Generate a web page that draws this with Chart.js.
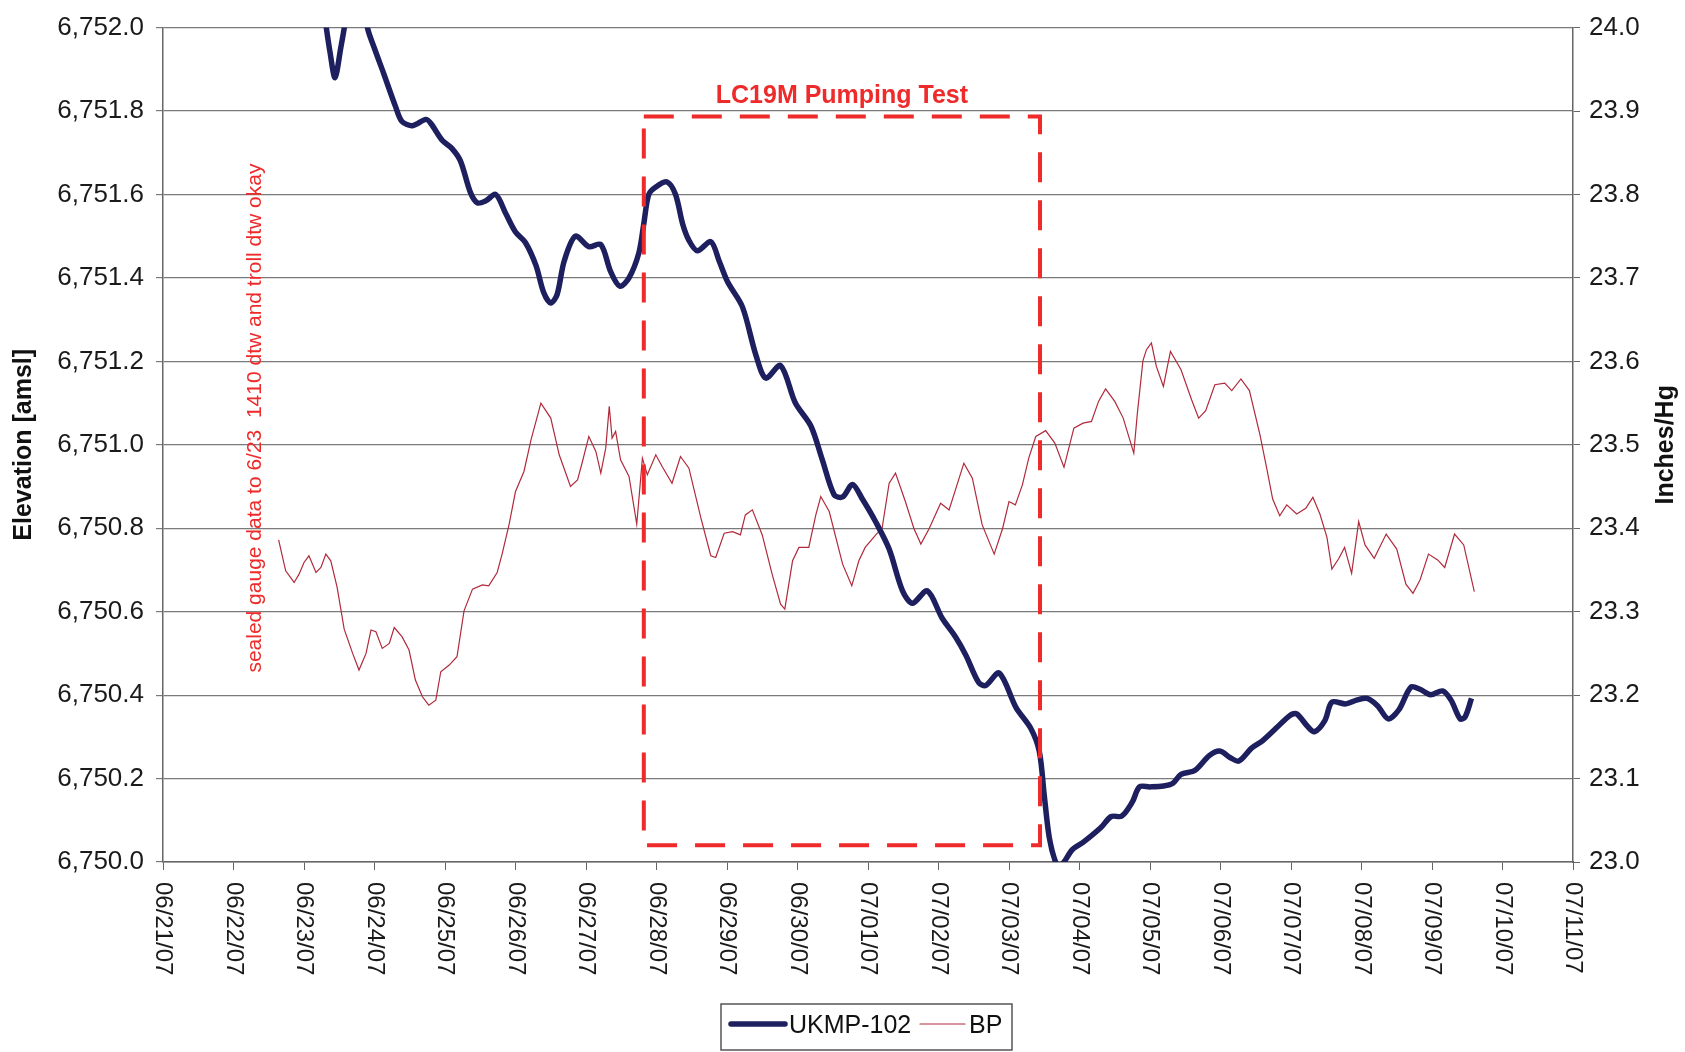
<!DOCTYPE html>
<html>
<head>
<meta charset="utf-8">
<title>UKMP-102 vs BP</title>
<script src="https://cdn.jsdelivr.net/npm/chart.js@4.4.1/dist/chart.umd.min.js"></script>
<style>
  body { margin: 0; background: #fff; }
</style>
</head>
<body>
<canvas id="chart" width="1685" height="1052"></canvas>
<script>
// days counted from 06/21/07 (0) to 07/11/07 (20)
const dateLabels = ['06/21/07', '06/22/07', '06/23/07', '06/24/07', '06/25/07', '06/26/07', '06/27/07',
  '06/28/07', '06/29/07', '06/30/07', '07/01/07', '07/02/07', '07/03/07', '07/04/07', '07/05/07',
  '07/06/07', '07/07/07', '07/08/07', '07/09/07', '07/10/07', '07/11/07'];

// UKMP-102 water level, ft amsl (left axis)
const ukmpDays = [2.20, 2.30, 2.37, 2.44, 2.52, 2.59, 2.68, 2.80, 2.90, 3.00, 3.13, 3.30, 3.39, 3.54, 3.73, 3.80,
  3.96, 4.10, 4.22, 4.36, 4.46, 4.58, 4.72, 4.86, 5.00, 5.14, 5.29, 5.40, 5.50, 5.59, 5.69, 5.85, 6.04, 6.21,
  6.35, 6.48, 6.61, 6.75, 6.82, 6.89, 6.99, 7.15, 7.27, 7.37, 7.46, 7.58, 7.77, 7.89, 8.01, 8.22, 8.41, 8.55,
  8.76, 8.97, 9.19, 9.35, 9.52, 9.64, 9.78, 9.92, 10.11, 10.30, 10.49, 10.63, 10.84, 11.05, 11.24, 11.39,
  11.57, 11.67, 11.86, 12.10, 12.31, 12.43, 12.50, 12.57, 12.66, 12.72, 12.78, 12.90, 13.05, 13.30, 13.45,
  13.60, 13.75, 13.85, 14.00, 14.19, 14.32, 14.44, 14.64, 14.84, 14.99, 15.14, 15.26, 15.44, 15.59, 15.79,
  15.99, 16.08, 16.23, 16.33, 16.48, 16.58, 16.78, 16.93, 17.08, 17.23, 17.38, 17.53, 17.70, 17.83, 17.98,
  18.15, 18.27, 18.40, 18.47, 18.56];
const ukmpElev = [6752.15, 6752.02, 6751.94, 6751.88, 6751.95, 6752.02, 6752.15, 6752.12, 6752.00, 6751.95,
  6751.89, 6751.81, 6751.775, 6751.765, 6751.78, 6751.77, 6751.73, 6751.71, 6751.68, 6751.605, 6751.58,
  6751.585, 6751.60, 6751.555, 6751.51, 6751.485, 6751.43, 6751.365, 6751.34, 6751.36, 6751.44, 6751.50,
  6751.475, 6751.48, 6751.415, 6751.38, 6751.40, 6751.46, 6751.53, 6751.60, 6751.618, 6751.63, 6751.60,
  6751.53, 6751.49, 6751.465, 6751.487, 6751.44, 6751.39, 6751.33, 6751.215, 6751.16, 6751.19, 6751.10,
  6751.045, 6750.965, 6750.88, 6750.875, 6750.905, 6750.87, 6750.815, 6750.75, 6750.65, 6750.62, 6750.65,
  6750.585, 6750.54, 6750.495, 6750.43, 6750.423, 6750.453, 6750.37, 6750.32, 6750.265, 6750.16, 6750.06,
  6750.00, 6749.99, 6750.00, 6750.03, 6750.047, 6750.082, 6750.109, 6750.11, 6750.144, 6750.18, 6750.18,
  6750.182, 6750.188, 6750.21, 6750.22, 6750.255, 6750.266, 6750.25, 6750.242, 6750.273, 6750.29, 6750.321,
  6750.352, 6750.355, 6750.326, 6750.312, 6750.339, 6750.383, 6750.379, 6750.388, 6750.392, 6750.374,
  6750.343, 6750.365, 6750.419, 6750.414, 6750.401, 6750.41, 6750.388, 6750.343, 6750.348, 6750.392];

// barometric pressure, inches Hg (right axis)
const bpDays = [1.64, 1.74, 1.86, 1.93, 2.00, 2.07, 2.17, 2.24, 2.31, 2.38, 2.47, 2.57, 2.69, 2.78, 2.88, 2.95,
  3.02, 3.11, 3.21, 3.28, 3.39, 3.49, 3.58, 3.68, 3.77, 3.87, 3.94, 4.06, 4.17, 4.27, 4.39, 4.53, 4.62, 4.74,
  4.81, 4.91, 5.00, 5.12, 5.22, 5.36, 5.50, 5.62, 5.78, 5.88, 5.95, 6.04, 6.14, 6.21, 6.28, 6.33, 6.37, 6.42,
  6.49, 6.61, 6.72, 6.80, 6.87, 6.99, 7.08, 7.22, 7.34, 7.46, 7.63, 7.77, 7.84, 7.96, 8.08, 8.19, 8.26, 8.36,
  8.50, 8.64, 8.76, 8.82, 8.93, 9.02, 9.16, 9.26, 9.33, 9.45, 9.64, 9.77, 9.87, 9.96, 10.11, 10.20, 10.30,
  10.39, 10.53, 10.65, 10.75, 10.87, 11.03, 11.15, 11.36, 11.48, 11.62, 11.79, 11.91, 12.00, 12.09, 12.19,
  12.28, 12.38, 12.52, 12.65, 12.78, 12.92, 13.05, 13.17, 13.27, 13.37, 13.50, 13.62, 13.77, 13.82, 13.90,
  13.95, 14.02, 14.09, 14.19, 14.29, 14.44, 14.59, 14.69, 14.79, 14.92, 15.06, 15.16, 15.29, 15.41, 15.56,
  15.66, 15.74, 15.84, 15.94, 16.08, 16.21, 16.31, 16.41, 16.51, 16.58, 16.68, 16.76, 16.86, 16.96, 17.05,
  17.18, 17.35, 17.50, 17.63, 17.73, 17.83, 17.95, 18.08, 18.18, 18.32, 18.45, 18.60];
const bpInHg = [23.386, 23.349, 23.335, 23.345, 23.359, 23.367, 23.347, 23.353, 23.369, 23.361, 23.329, 23.279,
  23.25, 23.23, 23.25, 23.278, 23.276, 23.256, 23.262, 23.281, 23.27, 23.254, 23.218, 23.198, 23.188, 23.194,
  23.228, 23.236, 23.246, 23.301, 23.327, 23.332, 23.331, 23.347, 23.369, 23.405, 23.444, 23.468, 23.506,
  23.55, 23.532, 23.488, 23.45, 23.458, 23.48, 23.51, 23.492, 23.466, 23.496, 23.546, 23.508, 23.516, 23.482,
  23.462, 23.405, 23.484, 23.464, 23.488, 23.474, 23.454, 23.486, 23.472, 23.412, 23.367, 23.365, 23.394,
  23.396, 23.392, 23.416, 23.422, 23.392, 23.345, 23.309, 23.303, 23.361, 23.377, 23.377, 23.416, 23.438,
  23.42, 23.357, 23.331, 23.361, 23.377, 23.392, 23.4, 23.454, 23.466, 23.432, 23.4, 23.381, 23.4, 23.43,
  23.422, 23.478, 23.46, 23.404, 23.369, 23.4, 23.432, 23.428, 23.452, 23.484, 23.51, 23.517, 23.502, 23.473,
  23.52, 23.526, 23.528, 23.552, 23.567, 23.552, 23.532, 23.49, 23.537, 23.601, 23.614, 23.622, 23.594, 23.57,
  23.612, 23.59, 23.554, 23.532, 23.541, 23.572, 23.574, 23.565, 23.579, 23.565, 23.512, 23.47, 23.435,
  23.415, 23.428, 23.417, 23.424, 23.437, 23.417, 23.389, 23.351, 23.364, 23.377, 23.346, 23.408, 23.38,
  23.364, 23.393, 23.375, 23.333, 23.322, 23.338, 23.369, 23.362, 23.353, 23.393, 23.38, 23.324];

// pumping test window (days) and its box limits on the elevation axis
const pumpStart = 6.82, pumpEnd = 12.44;
const pumpTop = 6751.787, pumpBottom = 6750.04;

const FONT = '"Liberation Sans", Arial, Helvetica, sans-serif';
const NAVY = '#1d1f5f';
const BPRED = '#b02a3c';
const RED = '#ee2a2a';

const decor = {
  id: 'decor',
  afterDraw(chart) {
    const ctx = chart.ctx;
    const xs = chart.scales.x, ys = chart.scales.y;

    // rotated date labels (read top to bottom)
    ctx.save();
    ctx.font = '24px ' + FONT;
    ctx.fillStyle = '#1a1a1a';
    ctx.textAlign = 'left';
    ctx.textBaseline = 'middle';
    dateLabels.forEach((lab, i) => {
      ctx.save();
      ctx.translate(xs.getPixelForValue(i), xs.top + 20);
      ctx.rotate(Math.PI / 2);
      ctx.fillText(lab, 0, 0);
      ctx.restore();
    });
    ctx.restore();

    // axis titles
    ctx.save();
    ctx.font = 'bold 25px ' + FONT;
    ctx.fillStyle = '#111';
    ctx.textAlign = 'center';
    ctx.textBaseline = 'middle';
    ctx.translate(24, (ys.top + ys.bottom) / 2);
    ctx.rotate(-Math.PI / 2);
    ctx.fillText('Elevation [amsl]', 0, 0);
    ctx.restore();

    ctx.save();
    ctx.font = 'bold 25px ' + FONT;
    ctx.fillStyle = '#111';
    ctx.textAlign = 'center';
    ctx.textBaseline = 'middle';
    ctx.translate(1666, (ys.top + ys.bottom) / 2);
    ctx.rotate(-Math.PI / 2);
    ctx.fillText('Inches/Hg', 0, 0);
    ctx.restore();

    // pumping test box
    const bx0 = xs.getPixelForValue(pumpStart), bx1 = xs.getPixelForValue(pumpEnd);
    const by0 = ys.getPixelForValue(pumpTop), by1 = ys.getPixelForValue(pumpBottom);
    ctx.save();
    ctx.strokeStyle = RED;
    ctx.lineWidth = 4;
    ctx.setLineDash([30, 18]);
    ctx.strokeRect(bx0, by0, bx1 - bx0, by1 - by0);
    ctx.setLineDash([]);
    ctx.font = 'bold 25px ' + FONT;
    ctx.fillStyle = RED;
    ctx.textAlign = 'center';
    ctx.textBaseline = 'middle';
    ctx.fillText('LC19M Pumping Test', (bx0 + bx1) / 2, by0 - 20);
    ctx.restore();

    // note
    ctx.save();
    ctx.font = '21px ' + FONT;
    ctx.fillStyle = RED;
    ctx.textAlign = 'center';
    ctx.textBaseline = 'middle';
    ctx.translate(xs.getPixelForValue(1.31), ys.getPixelForValue(6751.064));
    ctx.rotate(-Math.PI / 2);
    ctx.fillText('sealed gauge data to 6/23  1410 dtw and troll dtw okay', 0, 0);
    ctx.restore();

    // legend
    ctx.save();
    ctx.strokeStyle = '#555';
    ctx.lineWidth = 1.5;
    ctx.strokeRect(721, 1004, 291, 46);
    ctx.lineCap = 'round';
    ctx.strokeStyle = NAVY;
    ctx.lineWidth = 5.5;
    ctx.beginPath(); ctx.moveTo(731, 1024); ctx.lineTo(785, 1024); ctx.stroke();
    ctx.strokeStyle = BPRED;
    ctx.lineWidth = 1.2;
    ctx.beginPath(); ctx.moveTo(920, 1024); ctx.lineTo(965, 1024); ctx.stroke();
    ctx.font = '25px ' + FONT;
    ctx.fillStyle = '#111';
    ctx.textBaseline = 'middle';
    ctx.fillText('UKMP-102', 789, 1026);
    ctx.fillText('BP', 969, 1026);
    ctx.restore();
  }
};

const whiteBg = {
  id: 'whiteBg',
  beforeDraw(chart) {
    const ctx = chart.ctx;
    ctx.save();
    ctx.fillStyle = '#fff';
    ctx.fillRect(0, 0, chart.width, chart.height);
    ctx.restore();
  }
};

new Chart(document.getElementById('chart'), {
  type: 'line',
  data: {
    datasets: [{
      label: 'UKMP-102',
      data: ukmpDays.map((d, i) => ({x: d, y: ukmpElev[i]})),
      borderColor: NAVY,
      borderWidth: 5.5,
      pointRadius: 0,
      tension: 0.3,
      fill: false,
      clip: 0,
      yAxisID: 'y'
    }, {
      label: 'BP',
      data: bpDays.map((d, i) => ({x: d, y: bpInHg[i]})),
      borderColor: BPRED,
      borderWidth: 1.2,
      pointRadius: 0,
      tension: 0,
      fill: false,
      yAxisID: 'y1'
    }]
  },
  options: {
    responsive: false,
    devicePixelRatio: 1,
    animation: false,
    layout: { padding: { top: 24, left: 0, right: 0, bottom: 0 } },
    plugins: {
      legend: { display: false },
      tooltip: { enabled: false }
    },
    scales: {
      x: {
        type: 'linear',
        min: 0,
        max: 20,
        ticks: { stepSize: 1, display: false },
        grid: { drawOnChartArea: false, drawTicks: true, tickLength: 8, color: '#666' },
        border: { color: '#666', width: 1.5 },
        afterFit: s => { s.height = 190; }
      },
      y: {
        position: 'left',
        min: 6750,
        max: 6752,
        ticks: {
          stepSize: 0.2,
          padding: 12,
          color: '#1a1a1a',
          font: { family: FONT, size: 26 },
          callback: v => Number(v).toLocaleString('en-US', { minimumFractionDigits: 1, maximumFractionDigits: 1 })
        },
        grid: { color: '#7a7a7a', lineWidth: 1.2, tickLength: 7 },
        border: { color: '#666', width: 1.5 },
        afterFit: s => { s.width = 163; }
      },
      y1: {
        position: 'right',
        min: 23.0,
        max: 24.0,
        ticks: {
          stepSize: 0.1,
          padding: 9,
          color: '#1a1a1a',
          font: { family: FONT, size: 26 },
          callback: v => Number(v).toFixed(1)
        },
        grid: { drawOnChartArea: false, color: '#666', tickLength: 7 },
        border: { color: '#666', width: 1.5 },
        afterFit: s => { s.width = 112; }
      }
    }
  },
  plugins: [whiteBg, decor]
});
</script>
</body>
</html>
